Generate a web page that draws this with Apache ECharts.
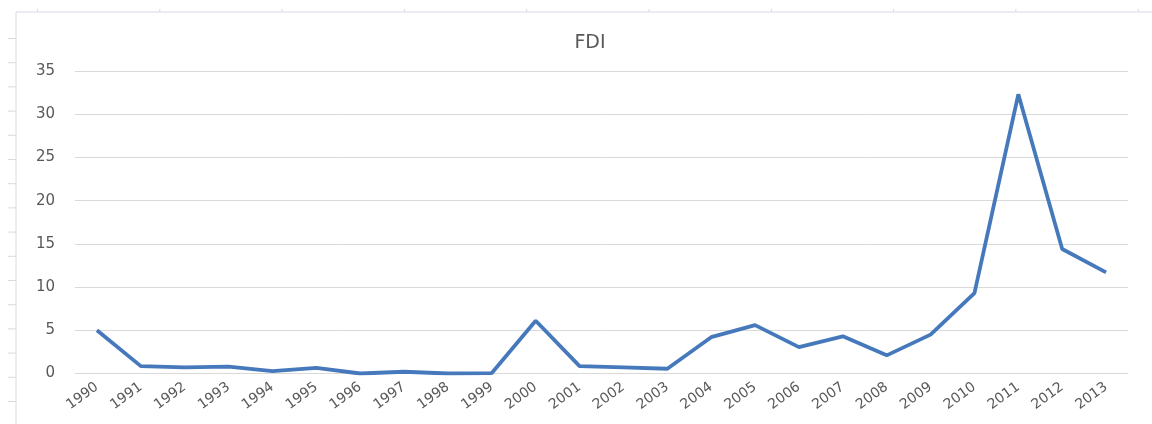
<!DOCTYPE html>
<html>
<head>
<meta charset="utf-8">
<script src="https://cdn.jsdelivr.net/npm/echarts@6/dist/echarts.min.js"></script>
<style>
  html, body { margin: 0; padding: 0; background: #fff; }
  #chart { width: 1152px; height: 424px; }
</style>
</head>
<body>
<div id="chart"></div>
<script>
// FDI line chart, 1990-2013
var years = ['1990','1991','1992','1993','1994','1995','1996','1997','1998','1999','2000','2001',
             '2002','2003','2004','2005','2006','2007','2008','2009','2010','2011','2012','2013']
var fdi = [5.0, 0.85, 0.7, 0.8, 0.27, 0.66, 0.0, 0.2, 0.0, 0.05, 6.1, 0.85,
           0.7, 0.55, 4.2, 5.6, 3.05, 4.3, 2.1, 4.5, 9.3, 32.3, 14.4, 11.7]
var yTicks = [0, 5, 10, 15, 20, 25, 30, 35]

// page frame (ruler like marks round the picture)
function frameGraphics() {
    var g = []
    var c = '#d6dae4'
    g.push({ type: 'line', shape: { x1: 16, y1: 12, x2: 1152, y2: 12 }, style: { stroke: c, lineWidth: 1 } })
    g.push({ type: 'line', shape: { x1: 16, y1: 12, x2: 16, y2: 424 }, style: { stroke: c, lineWidth: 1 } })
    for (var x = 37.5; x < 1152; x += 122.3) {
        g.push({ type: 'line', shape: { x1: x, y1: 9, x2: x, y2: 12 }, style: { stroke: c, lineWidth: 1 } })
    }
    for (var y = 38.5; y < 424; y += 24.2) {
        g.push({ type: 'line', shape: { x1: 8, y1: y, x2: 16, y2: y }, style: { stroke: c, lineWidth: 1 } })
    }
    return g
}

var chart = echarts.init(document.getElementById('chart'))
var option = {
    animation: false,
    backgroundColor: '#fff',
    title: {
        text: 'FDI',
        left: 585,
        top: 29,
        textAlign: 'center',
        textStyle: { fontFamily: 'DejaVu Sans', fontSize: 19, fontWeight: 'normal', color: '#595959' }
    },
    grid: { left: 75, right: 24, top: 71, bottom: 50.5 },
    xAxis: {
        type: 'category',
        data: years,
        boundaryGap: true,
        axisLine: { lineStyle: { color: '#d9d9d9' } },
        axisTick: { show: false },
        axisLabel: {
            rotate: 36,
            margin: 12,
            interval: 0,
            fontFamily: 'DejaVu Sans',
            fontSize: 14,
            color: '#595959'
        }
    },
    yAxis: {
        type: 'value',
        min: yTicks[0],
        max: yTicks[yTicks.length - 1],
        interval: 5,
        axisLine: { show: false },
        axisTick: { show: false },
        splitLine: { lineStyle: { color: '#d9d9d9' } },
        axisLabel: { margin: 20, fontFamily: 'DejaVu Sans', fontSize: 15, color: '#595959' }
    },
    graphic: frameGraphics(),
    series: [{
        name: 'FDI',
        type: 'line',
        data: fdi,
        symbol: 'none',
        lineStyle: { color: '#4679BB', width: 3.8 }
    }]
}
chart.setOption(option)
</script>
</body>
</html>
